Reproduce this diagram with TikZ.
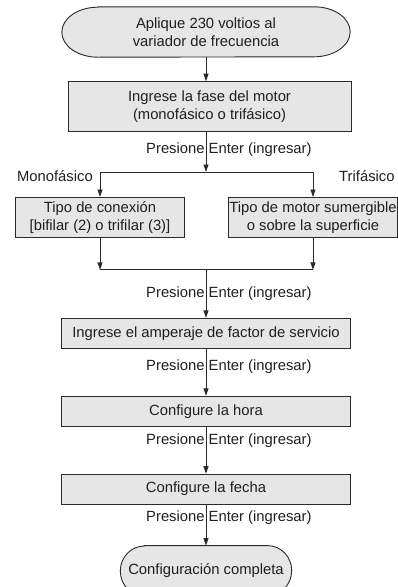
\documentclass[tikz,border=0pt]{standalone}
\usepackage{fontspec}
\setmainfont{Liberation Sans}
\usetikzlibrary{arrows.meta,positioning,calc,backgrounds}
\definecolor{boxgray}{HTML}{E6E6E6}
\definecolor{linegray}{HTML}{2A2A2A}

\begin{document}
\begin{tikzpicture}[
    x=1pt, y=1pt,
    font=\fontsize{14.8}{18.5}\selectfont,
    flow_box/.style={rectangle, draw=linegray, fill=boxgray, line width=0.9pt, inner sep=0pt, minimum width=289pt, minimum height=30pt, align=center, text=black!88},
    rama_box/.style={flow_box, minimum width=169pt, minimum height=40pt},
    term_node/.style={inner sep=0pt, minimum width=288pt, minimum height=50pt, align=center, text=black!88},
    enter_lbl/.style={inner sep=0pt, anchor=base west, text=black!88},
    fase_lbl/.style={inner sep=0pt, text=black!88},
    flujo/.style={draw=linegray, line width=0.9pt, -{Triangle[length=7.5pt,width=5pt]}},
    linea/.style={draw=linegray, line width=0.9pt}
]
    \useasboundingbox (0,0) rectangle (397,-587);
    \node[term_node] (inicio) at (206,-32) {Aplique 230 voltios al\\variador de frecuencia};
    \node[flow_box, minimum height=50pt, minimum width=283pt, below=24pt of inicio, xshift=3.5pt] (fase) {Ingrese la fase del motor\\(monofásico o trifásico)};

    % bifurcacion segun la fase
    \coordinate (split) at (206,-172);
    \coordinate (mono) at (100,-172);
    \coordinate (tri) at (313,-172);
    \node[rama_box, below=25pt of mono] (conexion) {Tipo de conexión\\{}[bifilar (2) o trifilar (3)]};
    \node[rama_box, below=25pt of tri] (sumergible) {Tipo de motor sumergible\\o sobre la superficie};
    \node[fase_lbl, anchor=east] (lbl_mono) at ([xshift=-7pt,yshift=-4pt]mono) {Monofásico};
    \node[fase_lbl, anchor=west] (lbl_tri) at ([xshift=26pt,yshift=-4pt]tri) {Trifásico};
    \coordinate (merge_l) at ($(conexion.south)+(0,-32)$);
    \coordinate (merge_r) at ($(sumergible.south)+(0,-32)$);
    \coordinate (merge) at (split |- merge_l);

    \node[flow_box, below=48pt of merge] (amperaje) {Ingrese el amperaje de factor de servicio};
    \node[flow_box, below=47pt of amperaje] (hora) {Configure la hora};
    \node[flow_box, below=47pt of hora] (fecha) {Configure la fecha};
    \node[term_node, minimum width=171pt, below=41pt of fecha] (fin) {Configuración completa};

    \foreach \y [count=\i] in {153,297,370,444,521}
        \node[enter_lbl] (enter\i) at (146,-\y) {Presione Enter (ingresar)};

    % terminales con extremos elipticos
    \begin{scope}[on background layer]
        \foreach \n/\rx in {inicio/36, fin/24}
            \draw[linea, fill=boxgray] ([xshift=\rx]\n.north west) -- ([xshift=-\rx]\n.north east)
                arc[start angle=90, end angle=-90, x radius=\rx, y radius=25]
                -- ([xshift=\rx]\n.south west)
                arc[start angle=270, end angle=90, x radius=\rx, y radius=25] -- cycle;
    \end{scope}

    \draw[flujo] (inicio.south) -- (inicio.south |- fase.north);
    \draw[flujo] (fase.south -| split) -- (split);
    \draw[linea] (mono) -- (tri);
    \draw[flujo] (mono) -- (conexion.north);
    \draw[flujo] (tri) -- (sumergible.north);
    \draw[flujo] (conexion.south) -- (merge_l);
    \draw[flujo] (sumergible.south) -- (merge_r);
    \draw[linea] (merge_l) -- (merge_r);
    \draw[flujo] (merge) -- (amperaje.north);
    \draw[flujo] (amperaje.south) -- (hora.north);
    \draw[flujo] (hora.south) -- (fecha.north);
    \draw[flujo] (fecha.south) -- (fin.north);
\end{tikzpicture}
\end{document}
